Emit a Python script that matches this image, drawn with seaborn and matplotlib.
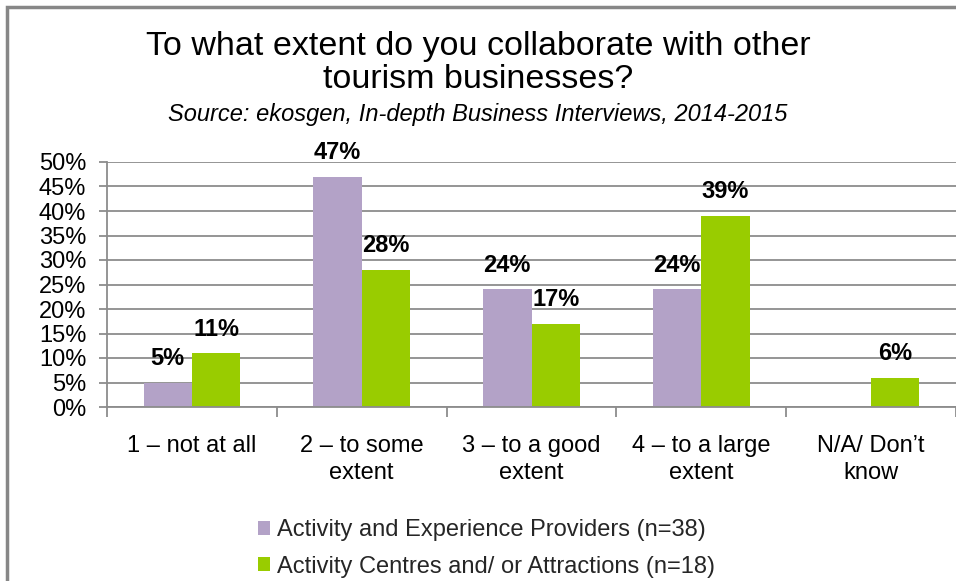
import matplotlib
matplotlib.use("Agg")
import matplotlib.pyplot as plt
import matplotlib.patches as mpatches
from matplotlib.ticker import FixedLocator, FuncFormatter
import pandas as pd
import seaborn as sns

# Survey responses (% of respondents)
categories = ["1 – not at all", "2 – to some\nextent", "3 – to a good\nextent",
              "4 – to a large\nextent", "N/A/ Don’t\nknow"]
series_names = ["Activity and Experience Providers (n=38)",
                "Activity Centres and/ or Attractions (n=18)"]
providers = [5, 47, 24, 24, 0]
centres = [11, 28, 17, 39, 6]
label_providers = ["5%", "47%", "24%", "24%", ""]
label_centres = ["11%", "28%", "17%", "39%", "6%"]
colors = ["#B3A2C7", "#99CC00"]
y_ticks = [0, 5, 10, 15, 20, 25, 30, 35, 40, 45, 50]

df = pd.DataFrame({
    "category": categories * 2,
    "series": [series_names[0]] * len(categories) + [series_names[1]] * len(categories),
    "value": providers + centres,
})

sns.set_theme(style="white")
plt.rcParams["font.family"] = ["Liberation Sans", "DejaVu Sans"]

W, H = 956, 581
fig = plt.figure(figsize=(W / 100, H / 100), dpi=100)
ax = fig.add_axes([107 / W, 1 - 407 / H, 849 / W, 245 / H])

sns.barplot(data=df, x="category", y="value", hue="series", order=categories,
            hue_order=series_names, palette=colors, width=0.57, gap=0,
            saturation=1, linewidth=0, ax=ax)

ax.set_xlim(-0.5, len(categories) - 0.5)
ax.set_ylim(0, 50)
ax.set_xlabel("")
ax.set_ylabel("")

# grid and axes styling
grid_col = "#8C8C8C"
ax.yaxis.set_major_locator(FixedLocator(y_ticks))
ax.yaxis.set_major_formatter(FuncFormatter(lambda v, p: f"{v:.0f}%"))
ax.grid(axis="y", color=grid_col, linewidth=1.3)
ax.set_axisbelow(True)
for side in ["top", "right"]:
    ax.spines[side].set_visible(False)
for side in ["left", "bottom"]:
    ax.spines[side].set_color(grid_col)
    ax.spines[side].set_linewidth(1.3)
ax.tick_params(axis="y", which="major", direction="out", length=6, width=1.3,
               color=grid_col, labelsize=17, labelcolor="black", pad=9, left=True)
ax.tick_params(axis="x", which="major", length=0, labelsize=17,
               labelcolor="black", pad=20)
ax.set_xticks(range(len(categories)))
ax.set_xticklabels(categories, linespacing=1.3)
ax.set_xticks([i - 0.5 for i in range(len(categories) + 1)], minor=True)
ax.tick_params(axis="x", which="minor", direction="out", length=7, width=1.3,
               color=grid_col, bottom=True)

# value labels above bars
for cont, labels in zip(ax.containers, [label_providers, label_centres]):
    for bar, lab in zip(cont, labels):
        if not lab:
            continue
        ax.annotate(lab, (bar.get_x() + bar.get_width() / 2, bar.get_height()),
                    xytext=(0, 9), textcoords="offset points", ha="center",
                    va="bottom", fontsize=17, fontweight="bold", color="black",
                    annotation_clip=False)

# legend below the chart
handles, labels = ax.get_legend_handles_labels()
ax.legend_.remove()
fig.legend(handles, labels, loc="upper left", bbox_to_anchor=(249 / W, 1 - 510 / H),
           frameon=False, fontsize=17, handlelength=0.5, handleheight=0.5,
           handletextpad=0.3, labelspacing=0.6, borderaxespad=0)

# titles
fig.text(0.5, 1 - 63 / H, "To what extent do you collaborate with other\ntourism businesses?",
         ha="center", va="center", fontsize=24.5, linespacing=1.05, color="black")
fig.text(0.5, 1 - 115 / H, "Source: ekosgen, In-depth Business Interviews, 2014-2015",
         ha="center", va="center", fontsize=17, style="italic", color="black")

# outer chart frame
fig.patches.append(mpatches.Rectangle((7 / W, -0.05), 1.2, 1 - 7 / H + 0.05,
                                      transform=fig.transFigure, fill=False,
                                      edgecolor="#878787", linewidth=2.5))

fig.savefig("out.png", dpi=100)
